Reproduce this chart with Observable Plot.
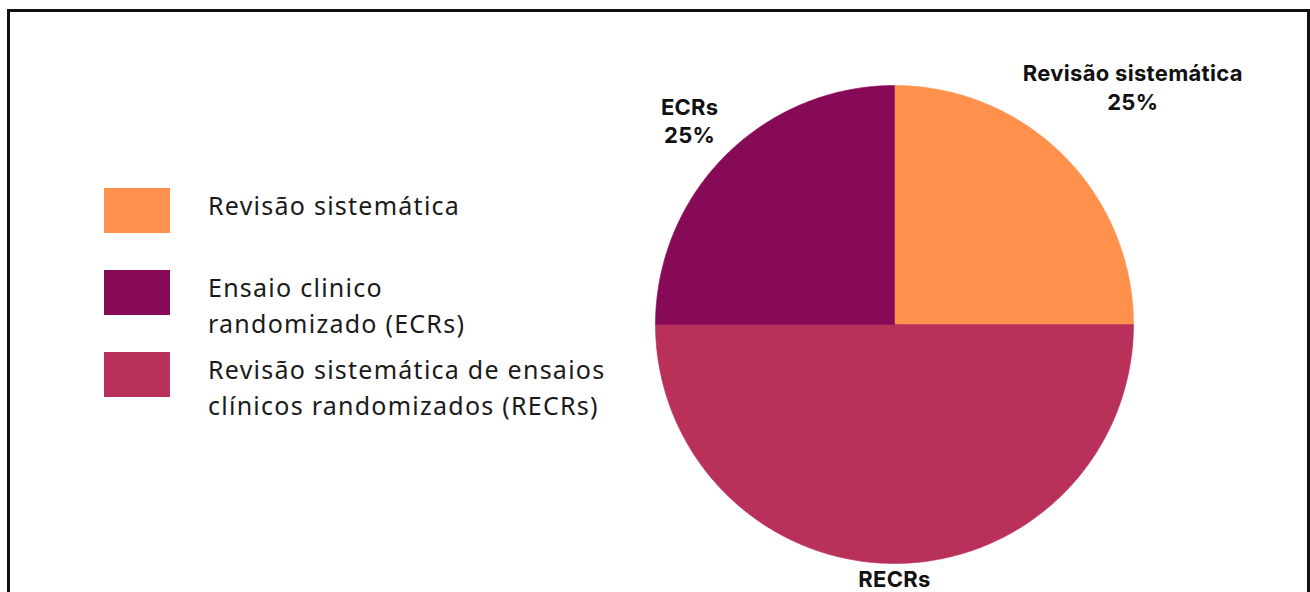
<!DOCTYPE html>
<html>
<head>
<meta charset="utf-8">
<script src="https://cdn.jsdelivr.net/npm/d3@7"></script>
<script src="https://cdn.jsdelivr.net/npm/@observablehq/plot@0.6"></script>
<style>
  html, body { margin: 0; padding: 0; background: #fff; overflow: hidden; width: 1310px; height: 592px; }
  #frame { position: absolute; left: 7px; top: 9px; width: 1303px; height: 700px; box-sizing: border-box;
           border: 3px solid #111; border-bottom: none; }
  #chart { position: absolute; left: 0; top: 0; }
  .lg-sw { position: absolute; left: 104px; width: 66px; height: 45px; }
  .lg-tx { position: absolute; left: 208px; font-family: "Noto Sans", sans-serif; font-size: 25px;
           letter-spacing: 1.25px; line-height: 36px; color: #1a1a1a; white-space: nowrap; }
</style>
</head>
<body>
<div id="frame"></div>
<div id="chart"></div>
<div id="legend"></div>
<script>
// Slices in clockwise order from 12 o'clock
const categories = ["Revisão sistemática", "RECRs", "ECRs"];
const values = [25, 50, 25];
const sliceLabels = ["Revisão sistemática\n25%", "RECRs", "ECRs\n25%"];
const colors = ["#FF914D", "#B9305B", "#860A56"];

// Legend entries (legend order)
const legendCategories = ["Revisão sistemática", "ECRs", "RECRs"];
const legendTexts = [
  "Revisão sistemática",
  "Ensaio clinico<br>randomizado (ECRs)",
  "Revisão sistemática de ensaios<br>clínicos randomizados (RECRs)"
];

// label distance (in pie radii) for each slice label
const labelRadius = [1.41, 1.059, 1.212];

const arcs = d3.pie().sort(null).value(d => d)(values);

const slicePts = [];
arcs.forEach((a, i) => {
  const cat = categories[i];
  slicePts.push({cat, x: 0, y: 0});
  const n = 180;
  for (let k = 0; k <= n; k++) {
    const t = a.startAngle + (a.endAngle - a.startAngle) * k / n;
    slicePts.push({cat, x: Math.sin(t), y: Math.cos(t)});
  }
  slicePts.push({cat, x: 0, y: 0});
});

const labelPts = arcs.map((a, i) => {
  const m = (a.startAngle + a.endAngle) / 2;
  return {label: sliceLabels[i], x: Math.sin(m) * labelRadius[i], y: Math.cos(m) * labelRadius[i]};
});

const W = 1310, H = 592;
const cx = 894, cy = 324, R = 239;

const plot = Plot.plot({
  width: W,
  height: H,
  marginLeft: cx - R,
  marginRight: W - (cx + R),
  marginTop: cy - R,
  marginBottom: H - (cy + R),
  x: {domain: [-1, 1], axis: null},
  y: {domain: [-1, 1], axis: null},
  color: {domain: categories, range: colors},
  style: {background: "transparent", overflow: "visible", letterSpacing: "0.3px"},
  marks: [
    Plot.line(slicePts, {x: "x", y: "y", z: "cat", fill: "cat", stroke: "cat", strokeWidth: 0.6, curve: "linear"}),
    Plot.text(labelPts, {
      x: "x", y: "y", text: "label",
      fontFamily: "Inter, sans-serif", fontWeight: 700, fontSize: 22,
      lineHeight: 1.3, fill: "#111", textAnchor: "middle", lineAnchor: "middle"
    })
  ]
});
document.getElementById("chart").appendChild(plot);

// Legend
const legend = document.getElementById("legend");
const rowTops = [188, 270, 352];
legendCategories.forEach((c, i) => {
  const sw = document.createElement("div");
  sw.className = "lg-sw";
  sw.style.top = rowTops[i] + "px";
  sw.style.background = colors[categories.indexOf(c)];
  legend.appendChild(sw);
  const tx = document.createElement("div");
  tx.className = "lg-tx";
  tx.style.top = (rowTops[i] - 1) + "px";
  tx.innerHTML = legendTexts[i];
  legend.appendChild(tx);
});
</script>
</body>
</html>
